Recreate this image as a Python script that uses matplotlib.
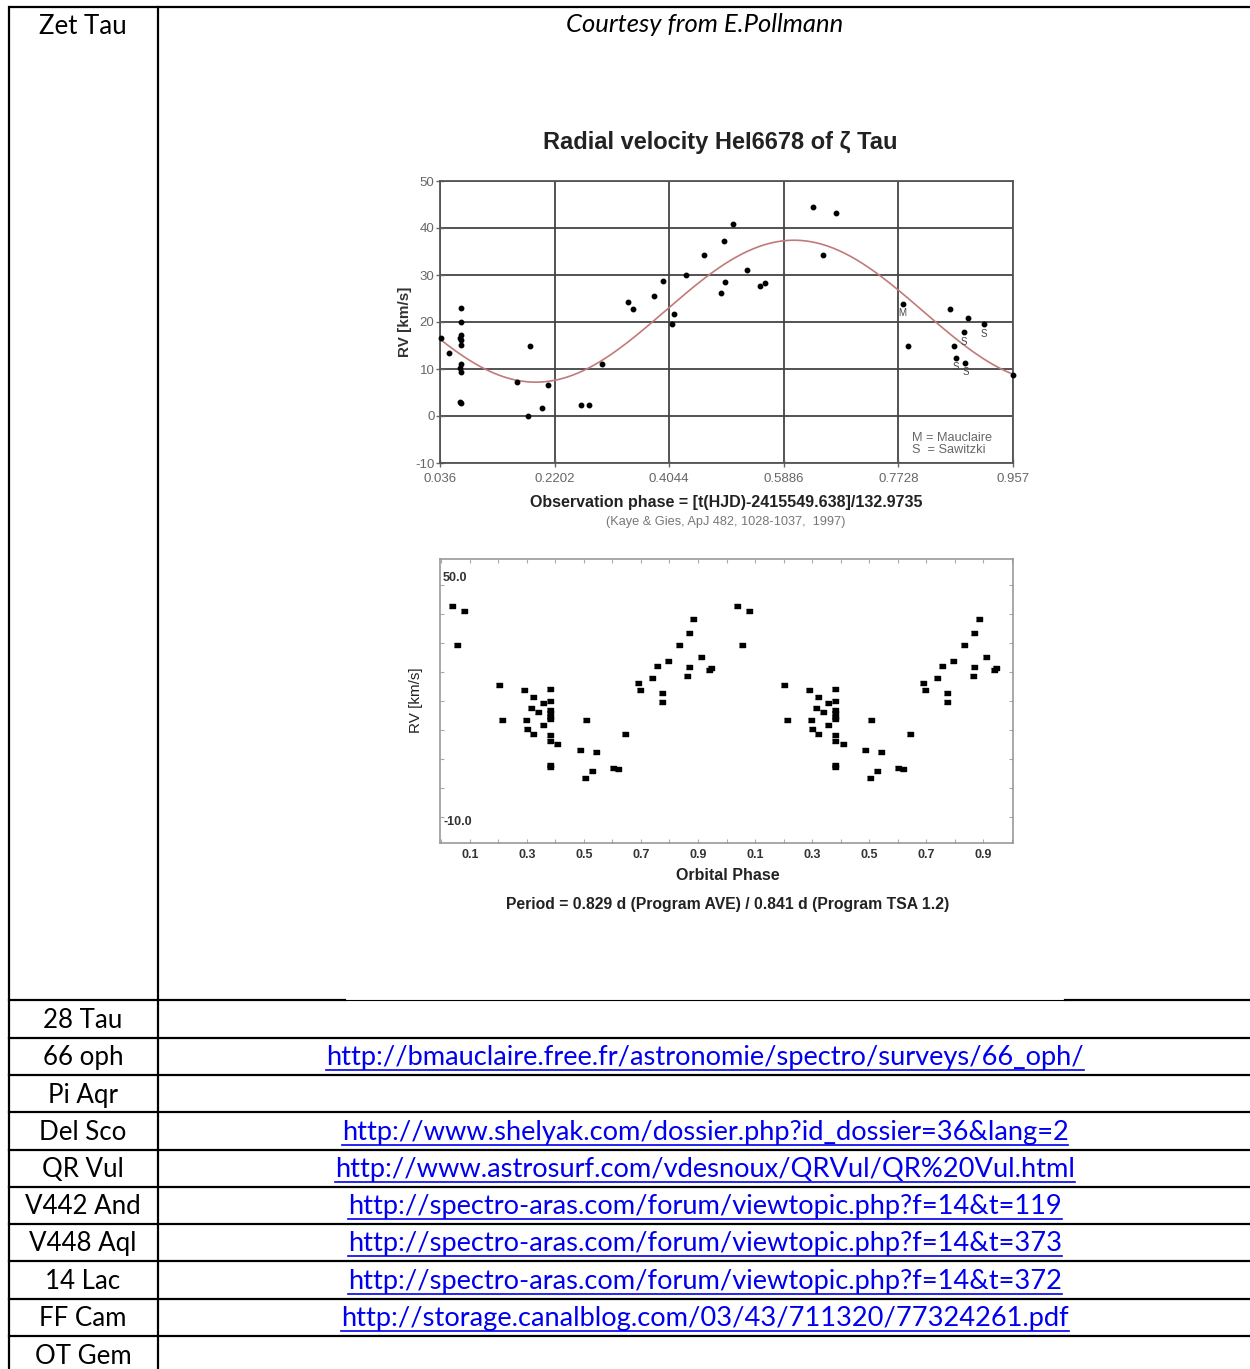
import numpy as np
import matplotlib
matplotlib.use("Agg")
import matplotlib.pyplot as plt

plt.rcParams['axes.unicode_minus'] = False

# ---------------- data: top chart (Kaye & Gies phase) ----------------
obs_phase = [0.0376, 0.0504,
             0.069, 0.070, 0.069, 0.068, 0.070, 0.069, 0.069, 0.068, 0.069, 0.068, 0.070,
             0.160, 0.181, 0.1775, 0.1994, 0.2095, 0.2624, 0.2747, 0.2966,
             0.3377, 0.3457, 0.3793, 0.3937, 0.4083, 0.4125, 0.4306, 0.4605,
             0.5067, 0.4917, 0.4874, 0.4944, 0.5297, 0.5511, 0.5586,
             0.6363, 0.6727, 0.6513,
             0.7797, 0.7878, 0.8558, 0.8847, 0.9099, 0.8777, 0.8627, 0.8654, 0.8804, 0.957]
obs_rv = [16.7, 13.5,
          22.9, 19.9, 17.3, 16.7, 16.2, 15.2, 11.0, 10.3, 9.4, 2.9, 2.7,
          7.2, 14.8, 0.1, 1.6, 6.7, 2.4, 2.3, 11.0,
          24.3, 22.7, 25.6, 28.8, 19.5, 21.6, 30.0, 34.2,
          40.8, 37.3, 26.1, 28.5, 31.0, 27.7, 28.4,
          44.5, 43.1, 34.2,
          23.8, 14.8, 22.7, 20.8, 19.5, 17.8, 14.8, 12.3, 11.3, 8.7]
obs_src = [''] * 39 + ['M', '', '', '', 'S', 'S', '', 'S', 'S', '']
phase_ticks = [0.036, 0.2202, 0.4044, 0.5886, 0.7728, 0.957]
phase_tick_labels = ['0.036', '0.2202', '0.4044', '0.5886', '0.7728', '0.957']
rv_ticks = [-10, 0, 10, 20, 30, 40, 50]
# sinusoidal fit
fit_mean, fit_amp, fit_period, fit_phase_min = 22.3, 15.1, 0.83, 0.19

# ---------------- data: bottom chart (orbital phase) ----------------
orb_phase = [0.036, 0.079, 0.053, 0.203, 0.212, 0.290, 0.298, 0.301, 0.321, 0.322,
             0.314, 0.340, 0.355, 0.355, 0.380, 0.380, 0.380, 0.380, 0.380, 0.380,
             0.380, 0.380, 0.380, 0.380, 0.407, 0.485, 0.507, 0.505, 0.529, 0.543,
             0.603, 0.620, 0.644, 0.690, 0.698, 0.740, 0.755, 0.775, 0.772, 0.796,
             0.832, 0.867, 0.884, 0.869, 0.863, 0.911, 0.939, 0.946]
orb_rv = [44.6, 43.3, 34.5, 24.1, 15.0, 22.9, 15.0, 12.7, 11.5, 21.0,
          18.1, 17.1, 19.6, 13.8, 23.0, 20.1, 17.7, 16.8, 15.9, 15.3,
          11.2, 9.7, 3.0, 3.4, 8.8, 7.3, 15.1, 0.2, 2.0, 6.9,
          2.6, 2.5, 11.4, 24.6, 22.9, 25.9, 29.1, 22.0, 19.7, 30.4,
          34.5, 37.6, 41.1, 28.7, 26.5, 31.3, 28.0, 28.4]
orb_xticks = [0.1, 0.3, 0.5, 0.7, 0.9, 1.1, 1.3, 1.5, 1.7, 1.9]
orb_xtick_labels = ['0.1', '0.3', '0.5', '0.7', '0.9', '0.1', '0.3', '0.5', '0.7', '0.9']
orb_yticks = [50.0, 42.5, 35.0, 27.5, 20.0, 12.5, 5.0, -2.5, -10.0]
orb_ylabels = [(50.0, '50.0'), (-10.0, '-10.0')]

# ---------------- data: table ----------------
star_names = ['28 Tau', '66 oph', 'Pi Aqr', 'Del Sco', 'QR Vul', 'V442 And',
              'V448 Aql', '14 Lac', 'FF Cam', 'OT Gem']
star_links = ['',
              'http://bmauclaire.free.fr/astronomie/spectro/surveys/66_oph/',
              '',
              'http://www.shelyak.com/dossier.php?id_dossier=36&lang=2',
              'http://www.astrosurf.com/vdesnoux/QRVul/QR%20Vul.html',
              'http://spectro-aras.com/forum/viewtopic.php?f=14&t=119',
              'http://spectro-aras.com/forum/viewtopic.php?f=14&t=373',
              'http://spectro-aras.com/forum/viewtopic.php?f=14&t=372',
              'http://storage.canalblog.com/03/43/711320/77324261.pdf',
              '']

W, H = 1250, 1369
fig = plt.figure(figsize=(W / 100, H / 100), dpi=100)
fig.patch.set_facecolor('white')
renderer = fig.canvas.get_renderer()

bg = fig.add_axes([0, 0, 1, 1])
bg.set_xlim(0, W)
bg.set_ylim(H, 0)
bg.axis('off')

TABLE_FONT = 'Lato'
lw_tab = 1.6
# table frame
bg.plot([9, W], [7, 7], color='black', lw=lw_tab, solid_capstyle='butt')
bg.plot([9, 9], [7, H], color='black', lw=lw_tab)
bg.plot([158, 158], [7, H], color='black', lw=lw_tab)
bg.plot([9, 345], [1000, 1000], color='black', lw=lw_tab)
bg.plot([345, 1065], [1000, 1000], color='black', lw=0.8)
bg.plot([1065, W], [1000, 1000], color='black', lw=lw_tab)
row_lines = [1037.7, 1075, 1112.3, 1149.7, 1186.7, 1223.7, 1261, 1298.7, 1336]
for y in row_lines:
    bg.plot([9, W], [y, y], color='black', lw=lw_tab)

row_tops = [1000.7] + row_lines
row_h = 37.3


def measured_size(s, target, base=17, **kw):
    t = bg.text(600, 600, s, fontsize=base, **kw)
    bb = t.get_window_extent(renderer)
    t.remove()
    return base * target / bb.width


name_fs = measured_size('28 Tau', 79, family=TABLE_FONT)
link_fs = measured_size(star_links[1], 759, family=TABLE_FONT)
court_fs = measured_size('Courtesy from E.Pollmann', 278, family=TABLE_FONT, style='italic')

bg.text(83, 27, 'Zet Tau', ha='center', va='center', fontsize=name_fs, family=TABLE_FONT)
bg.text(705, 25, 'Courtesy from E.Pollmann', ha='center', va='center',
        fontsize=court_fs, style='italic', family=TABLE_FONT)

link_color = '#0000EE'
for i, (nm, ln) in enumerate(zip(star_names, star_links)):
    yc = row_tops[i] + row_h / 2 + 1.5
    bg.text(83, yc, nm, ha='center', va='center', fontsize=name_fs, family=TABLE_FONT)
    if ln:
        t = bg.text(705, yc, ln, ha='center', va='center', fontsize=link_fs,
                    family=TABLE_FONT, color=link_color)
        bb = t.get_window_extent(renderer)
        x0 = bg.transData.inverted().transform((bb.x0, 0))[0]
        x1 = bg.transData.inverted().transform((bb.x1, 0))[0]
        bg.plot([x0, x1], [yc + 12.5, yc + 12.5], color=link_color, lw=1.2)

# ---------------- top chart ----------------
def frac(px_left, px_top, px_right, px_bottom):
    return [px_left / W, 1 - px_bottom / H, (px_right - px_left) / W, (px_bottom - px_top) / H]

CF = 'Liberation Sans'
ax1 = fig.add_axes(frac(440, 181, 1013, 463))
ax1.set_xlim(phase_ticks[0], phase_ticks[-1])
ax1.set_ylim(rv_ticks[0], rv_ticks[-1])
ax1.set_xticks(phase_ticks)
ax1.set_xticklabels(phase_tick_labels)
ax1.set_yticks(rv_ticks)
ax1.grid(True, color='#444444', lw=1.3)
for s in ax1.spines.values():
    s.set_color('#555555')
    s.set_linewidth(1.3)
ax1.tick_params(direction='inout', length=6, width=1, colors='#666666',
                labelsize=9.5, pad=1)
ax1.tick_params(axis='x', pad=4)
for lab in ax1.get_xticklabels() + ax1.get_yticklabels():
    lab.set_family(CF)

xs = np.linspace(phase_ticks[0], phase_ticks[-1], 400)
ax1.plot(xs, fit_mean - fit_amp * np.cos(2 * np.pi * (xs - fit_phase_min) / fit_period),
         color='#c07a7a', lw=1.2, zorder=3)
ax1.plot(obs_phase, obs_rv, 'o', color='black', ms=3.2, zorder=4, clip_on=False)
for x, y, s in zip(obs_phase, obs_rv, obs_src):
    if s:
        ax1.text(x, y - 0.9, s, ha='center', va='top', fontsize=7, color='#444444', family=CF)
ax1.text(0.824, 0.066, 'M = Mauclaire\nS  = Sawitzki', transform=ax1.transAxes,
         fontsize=9.2, color='#666666', family=CF, va='center', ha='left', linespacing=1.0)

fig.text(720 / W, 1 - 142 / H, 'Radial velocity HeI6678 of ζ Tau', ha='center', va='center',
         fontsize=17, fontweight='bold', family=CF, color='#222222')
fig.text(405 / W, 1 - 322 / H, 'RV [km/s]', ha='center', va='center', rotation=90,
         fontsize=11, fontweight='bold', family=CF, color='#333333')
fig.text(726 / W, 1 - 502 / H, 'Observation phase = [t(HJD)-2415549.638]/132.9735',
         ha='center', va='center', fontsize=11.5, fontweight='bold', family=CF, color='#222222')
fig.text(726 / W, 1 - 522 / H, '(Kaye & Gies, ApJ 482, 1028-1037,  1997)',
         ha='center', va='center', fontsize=9.2, family=CF, color='#777777')

# ---------------- bottom chart ----------------
ax2 = fig.add_axes(frac(440, 559, 1013, 843))
ax2.set_xlim(-0.005, 2.005)
ax2.set_ylim(-16.7, 56.7)
for s in ax2.spines.values():
    s.set_color('#999999')
    s.set_linewidth(1.2)
ax2.set_xticks(orb_xticks)
ax2.set_xticklabels(orb_xtick_labels)
ax2.set_xticks(np.round(np.arange(0.0, 2.01, 0.1), 2), minor=True)
ax2.set_yticks(orb_yticks)
ax2.set_yticklabels([])
ax2.tick_params(which='both', direction='in', top=True, right=True, length=3,
                width=0.8, colors='#aaaaaa', labelcolor='#333333', labelsize=9, pad=4)
for lab in ax2.get_xticklabels():
    lab.set_family(CF)
    lab.set_fontweight('bold')
rect = [(-1.4, -1), (1.4, -1), (1.4, 1), (-1.4, 1)]
for offset in (0.0, 1.0):
    ax2.plot(np.array(orb_phase) + offset, orb_rv, linestyle='none', marker=rect,
             color='black', ms=4.6)
for yv, lab in orb_ylabels:
    ax2.text(0.006, yv + (1.8 if yv > 0 else -1.3), lab, ha='left', va='center',
             fontsize=9, fontweight='bold', family=CF, color='#333333')
fig.text(416 / W, 1 - 700 / H, 'RV [km/s]', ha='center', va='center', rotation=90,
         fontsize=11, family=CF, color='#222222')
fig.text(728 / W, 1 - 876 / H, 'Orbital Phase', ha='center', va='center',
         fontsize=11.5, fontweight='bold', family=CF, color='#222222')
fig.text(728 / W, 1 - 904 / H, 'Period = 0.829 d (Program AVE) / 0.841 d (Program TSA 1.2)',
         ha='center', va='center', fontsize=11.3, fontweight='bold', family=CF, color='#222222')

fig.savefig('out.png', dpi=100, facecolor='white')
